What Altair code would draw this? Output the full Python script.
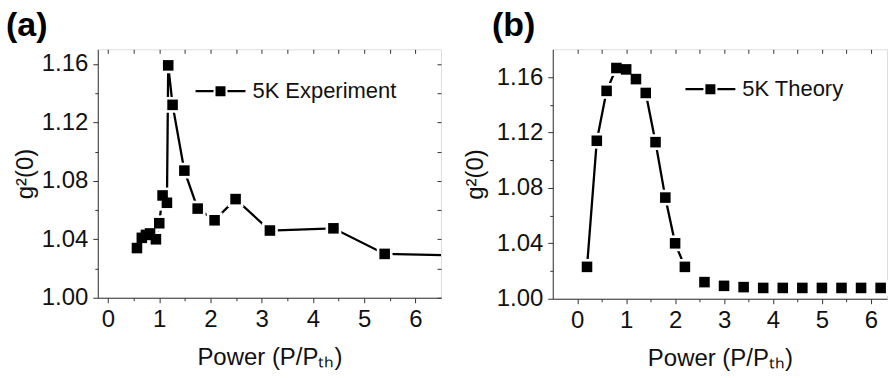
import altair as alt
import pandas as pd

# ---------------- data ----------------
# Panel (a): 5K Experiment
exp_x = [0.565, 0.66, 0.74, 0.82, 0.935, 1.0, 1.065, 1.15, 1.175, 1.26, 1.49, 1.75, 2.08, 2.49, 3.16, 4.40, 5.40, 7.40]
exp_y = [1.034, 1.041, 1.043, 1.044, 1.040, 1.051, 1.070, 1.065, 1.159, 1.132, 1.087, 1.061, 1.053, 1.0675, 1.046, 1.0475, 1.030, 1.0285]

# Panel (b): 5K Theory
th_x = [0.2, 0.4, 0.6, 0.8, 1.0, 1.2, 1.4, 1.6, 1.8, 2.0, 2.2, 2.6, 3.0, 3.4, 3.8, 4.2, 4.6, 5.0, 5.4, 5.8, 6.2]
th_y = [1.023, 1.114, 1.150, 1.1665, 1.1655, 1.1585, 1.1485, 1.113, 1.073, 1.040, 1.023, 1.012, 1.0093,
        1.0084, 1.0078, 1.0078, 1.0078, 1.0078, 1.0078, 1.0078, 1.0078]
th_line_last = 2.2  # theory curve is only joined by a line up to here

x_ticks_a = [i * 0.5 for i in range(0, 13)]
x_ticks_b = [i * 0.5 for i in range(0, 13)]
y_ticks_a = [round(1.0 + i * 0.02, 2) for i in range(0, 9)]
y_ticks_b = [round(1.0 + i * 0.02, 2) for i in range(0, 9)]

FONT = "Liberation Sans"
AX = "#333333"
TXT = "#111111"

XMAJ = "abs(datum.value - round(datum.value)) < 0.001"
YMAJ = "abs(datum.value*25 - round(datum.value*25)) < 0.001"

LEGEND_PATH = ("M-1,-0.045H-0.28V0.045H-1Z "
               "M-0.2,-0.2H0.2V0.2H-0.2Z "
               "M0.28,-0.045H1V0.045H0.28Z")


def common_axis():
    return dict(domainColor=AX, tickColor=AX, tickWidth=1, domainWidth=1,
                labelFont=FONT, labelFontSize=24, labelColor=TXT,
                titleFont=FONT, titleFontSize=24, titleFontWeight="normal",
                titleColor=TXT, grid=False, zindex=1,
                labelFlush=False, labelOverlap=False)


def panel(xs_, ys_, name, xdom, ydom, xticks, yticks, w, h, lx, ly,
          label, title_dx, right_axis, ytitle_pad, line_last=None):
    df = pd.DataFrame({"x": xs_, "y": ys_, "series": [name] * len(xs_)})
    xs = alt.Scale(domain=xdom, nice=False, zero=False)
    ys = alt.Scale(domain=ydom, nice=False, zero=False)

    xaxis = alt.Axis(values=xticks,
                     labelExpr=f"{XMAJ} ? format(datum.value, 'd') : ''",
                     tickSize={"condition": {"test": XMAJ, "value": 5}, "value": 3},
                     labelPadding=5, title="Power (P/P\u209c\u2095)", titlePadding=14,
                     **common_axis())
    yaxis = alt.Axis(values=yticks,
                     labelExpr=f"{YMAJ} ? format(datum.value, '.2f') : ''",
                     tickSize={"condition": {"test": YMAJ, "value": 5}, "value": 3},
                     labelPadding=5, title="g\u00b2(0)", titlePadding=ytitle_pad,
                     **common_axis())

    base = alt.Chart(df)
    line_src = base
    if line_last is not None:
        line_src = base.transform_filter(f"datum.x <= {line_last}")
    line = line_src.mark_line(color="black", strokeWidth=2.3, clip=True).encode(
        x=alt.X("x:Q", scale=xs, axis=xaxis),
        y=alt.Y("y:Q", scale=ys, axis=yaxis),
    )

    inside = base.transform_filter(f"datum.x <= {xdom[1]}")

    top_axis = alt.Axis(orient="top", values=xticks, labels=False, domain=False,
                        tickSize=4, offset=-4, title=None, tickColor=AX, grid=False)
    right_ax = alt.Axis(orient="right", values=yticks, labels=False, domain=False,
                        tickSize=4, offset=-4, title=None, tickColor=AX, grid=False)
    frame = inside.mark_point(opacity=0).encode(
        x=alt.X("x:Q", scale=xs, axis=top_axis),
        y=alt.Y("y:Q", scale=ys, axis=right_ax if right_axis else None),
    )

    halo = inside.mark_point(shape="square", filled=True, color="white",
                             size=250, opacity=1).encode(
        x=alt.X("x:Q", scale=xs, axis=None),
        y=alt.Y("y:Q", scale=ys, axis=None),
    )
    pts = inside.mark_point(shape="square", filled=True, size=112, opacity=1).encode(
        x=alt.X("x:Q", scale=xs, axis=None),
        y=alt.Y("y:Q", scale=ys, axis=None),
        color=alt.Color("series:N", scale=alt.Scale(range=["black"]),
                        legend=alt.Legend(title=None, orient="none",
                                          legendX=lx, legendY=ly,
                                          symbolType=LEGEND_PATH, symbolSize=2500,
                                          symbolStrokeWidth=0, symbolOpacity=1,
                                          labelFont=FONT, labelFontSize=22,
                                          labelColor=TXT, labelOffset=7,
                                          padding=0)),
    )

    return alt.layer(line, frame, halo, pts).resolve_axis(
        x="independent", y="independent"
    ).properties(
        width=w, height=h,
        title=alt.TitleParams(text=label, anchor="start", frame="group",
                              dx=title_dx, offset=-21, baseline="alphabetic",
                              fontSize=34, fontWeight="bold", font=FONT,
                              color="black"),
    )


pa = panel(exp_x, exp_y, "5K Experiment", [-0.2, 6.5], [1.0, 1.17],
           x_ticks_a, y_ticks_a, 344, 249, 98, 17, "(a)", -92, True, 4)
pb = panel(th_x, th_y, "5K Theory", [-0.5, 6.33], [1.0, 1.18],
           x_ticks_b, y_ticks_b, 335, 250, 133, 15, "(b)", -61, False, 9,
           line_last=th_line_last)

chart = alt.hconcat(pa, pb, spacing=20).resolve_scale(
    x="independent", y="independent", color="independent"
).resolve_legend(color="independent").properties(
    padding={"left": 5, "top": 8, "right": 0, "bottom": 0}
).configure_view(stroke=AX, strokeWidth=1).configure(background="white")

chart.save("out.html", embed_options={"renderer": "svg", "actions": False})
